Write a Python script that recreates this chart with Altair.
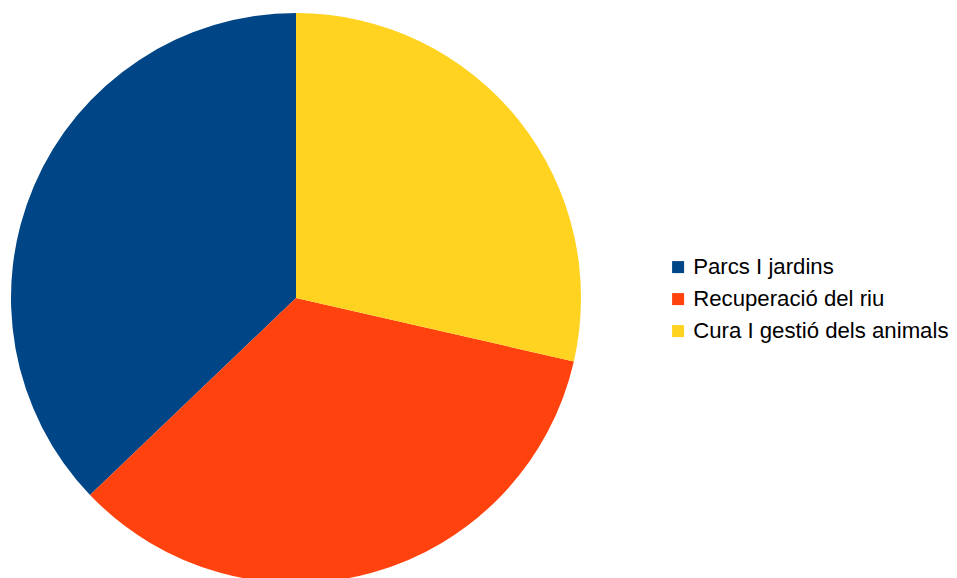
import altair as alt
import pandas as pd

categories = ["Parcs I jardins", "Recuperació del riu", "Cura I gestió dels animals"]
values = [13, 12, 10]
colors = ["#004586", "#ff420e", "#ffd320"]
draw_order = [2, 1, 0]  # clockwise from top: Cura, Recuperació, Parcs

df = pd.DataFrame({"cat": categories, "val": values, "ord": draw_order})

chart = alt.Chart(df).mark_arc(strokeWidth=0).encode(
    theta=alt.Theta("val:Q", stack=True),
    order=alt.Order("ord:Q", sort="ascending"),
    color=alt.Color(
        "cat:N",
        scale=alt.Scale(domain=categories, range=colors),
        legend=alt.Legend(
            title=None,
            orient="none",
            legendX=659,
            legendY=248,
            symbolType="square",
            symbolSize=144,
            symbolStrokeWidth=0,
            labelFont="Liberation Sans",
            labelFontSize=22.2,
            labelColor="#000000",
            labelOffset=4,
            rowPadding=9,
            labelLimit=400,
        ),
    ),
    x=alt.value(288),
    y=alt.value(290),
    radius=alt.value(285),
).properties(
    width=941,
    height=570,
    padding=0,
    autosize=alt.AutoSizeParams(type="none"),
).configure_view(stroke=None)

chart.save("out.html", embed_options={"renderer": "svg", "actions": False})
